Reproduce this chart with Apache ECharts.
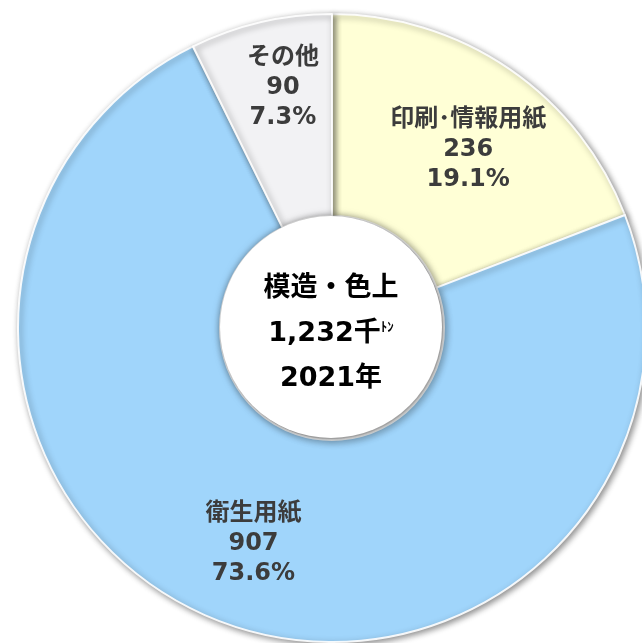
<!DOCTYPE html>
<html>
<head>
<meta charset="utf-8">
<script src="https://cdn.jsdelivr.net/npm/echarts@6/dist/echarts.min.js"></script>
<style>
  html, body { margin: 0; padding: 0; background: #fff; }
  #chart { width: 642px; height: 643px; }
</style>
</head>
<body>
<div id="chart"></div>
<script>
// data
const categories = ["印刷･情報用紙", "衛生用紙", "その他"];
const values = [236, 907, 90];
const shares = ["19.1%", "73.6%", "7.3%"];
const colors = ["#FFFFD6", "#A0D5FB", "#F2F2F4"];
const centerLines = ["模造・色上", "1,232", "千", "ﾄﾝ", "2021年"];

// blank lines before / after each inside label, to nudge it along the radius
const padBefore = ["", "\n", ""];
const padAfter = ["", "", "\n\n"];
const padLeft = [28, 0, 0];

const font = "'DejaVu Sans', 'Noto Sans CJK JP', sans-serif";

const chart = echarts.init(document.getElementById("chart"));
chart.setOption({
    animation: false,
    backgroundColor: "#fff",
    series: [
        {
            type: "pie",
            center: [332, 328],
            radius: [112, 314],
            startAngle: 90,
            clockwise: true,
            silent: true,
            itemStyle: {
                borderColor: "rgba(255,255,255,0.9)",
                borderWidth: 2,
                shadowBlur: 6,
                shadowOffsetX: 2,
                shadowOffsetY: 2,
                shadowColor: "rgba(0,0,0,0.45)",
            },
            label: {
                position: "inside",
                fontFamily: font,
                fontSize: 24,
                fontWeight: "bold",
                color: "#3c3c3c",
                lineHeight: 30,
                formatter: function (p) {
                    const i = p.dataIndex;
                    return padBefore[i] + p.name + "\n" + p.value + "\n" + shares[i] + padAfter[i];
                },
            },
            labelLine: { show: false },
            data: categories.map(function (name, i) {
                return {
                    name: name,
                    value: values[i],
                    itemStyle: { color: colors[i] },
                    label: { padding: [0, 0, 0, padLeft[i]] },
                };
            }),
        },
        {
            type: "pie",
            center: [331, 327],
            radius: [0, 111],
            silent: true,
            itemStyle: {
                color: "#fff",
                shadowBlur: 8,
                shadowOffsetX: 1,
                shadowOffsetY: 1,
                shadowColor: "rgba(0,0,0,0.55)",
            },
            label: {
                position: "center",
                fontFamily: font,
                fontWeight: "bold",
                color: "#000",
                padding: [14, 0, 0, 0],
                formatter: function () {
                    return "{a|" + centerLines[0] + "}\n{a|" + centerLines[1] + centerLines[2] +
                        "}{s|" + centerLines[3] + "}\n{a|" + centerLines[4] + "}";
                },
                rich: {
                    a: { fontFamily: font, fontSize: 27, fontWeight: "bold", color: "#000", lineHeight: 45 },
                    s: { fontFamily: font, fontSize: 13, fontWeight: "bold", color: "#000", lineHeight: 45, padding: [0, 0, 12, 0] },
                },
            },
            labelLine: { show: false },
            data: [{ name: "total", value: 1 }],
        },
    ],
});
</script>
</body>
</html>
